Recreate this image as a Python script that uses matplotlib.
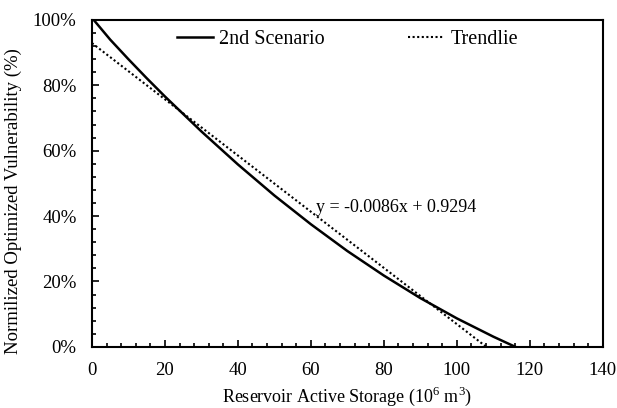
import matplotlib.pyplot as plt
from matplotlib.ticker import MultipleLocator, PercentFormatter
import numpy as np

plt.rcParams['font.family'] = ['Liberation Serif', 'DejaVu Serif']
plt.rcParams['mathtext.fontset'] = 'custom'
plt.rcParams['mathtext.rm'] = 'Liberation Serif'

# 2nd scenario: normalized vulnerability vs active storage
storage = [0.5, 5, 10, 15, 20, 30, 40, 50, 60, 70, 80, 90, 100, 110, 116]
vulnerability = [1.00, 0.940, 0.880, 0.822, 0.766, 0.659, 0.558, 0.463,
                 0.375, 0.293, 0.218, 0.149, 0.087, 0.031, 0.0]

# linear trendline
slope = -0.0086
intercept = 0.9294
trend_x = [0, -intercept / slope]

fig, ax = plt.subplots(figsize=(6.17, 4.08), dpi=100)

ax.plot(storage, vulnerability, color='black', linewidth=1.8,
        label='2nd Scenario')
tx = np.array(trend_x)
ax.plot(tx, slope * tx + intercept, color='black', linewidth=1.5,
        linestyle=(0, (1, 1.2)), label='Trendlie')

ax.text(61.5, 0.425, f'y = {slope}x + {intercept}', fontsize=13,
        va='center', ha='left')

ax.set_xlim(0, 140)
ax.set_ylim(0, 1)
ax.xaxis.set_major_locator(MultipleLocator(20))
ax.xaxis.set_minor_locator(MultipleLocator(4))
ax.yaxis.set_major_locator(MultipleLocator(0.2))
ax.yaxis.set_minor_locator(MultipleLocator(0.04))
ax.yaxis.set_major_formatter(PercentFormatter(1.0, decimals=0))

ax.tick_params(which='both', direction='in', labelsize=13.5, width=1.2)
ax.tick_params(which='major', length=5, pad=11)
ax.tick_params(which='minor', length=3)
for s in ax.spines.values():
    s.set_linewidth(1.5)

ax.set_xlabel(r'Reservoir Active Storage (10$^{6}$ m$^{3}$)', fontsize=13,
              labelpad=4)
ax.set_ylabel('Normilized Optimized Vulnerability (%)', fontsize=13.5)
ax.yaxis.set_label_coords(-0.137, 0.447)

ax.legend(loc='upper center', ncol=2, frameon=False, fontsize=14.5,
          columnspacing=4.15, handlelength=1.8, handletextpad=0.3,
          borderaxespad=0.1)

fig.subplots_adjust(left=0.149, right=0.977, top=0.951, bottom=0.15)
fig.savefig('out.png', dpi=100)
